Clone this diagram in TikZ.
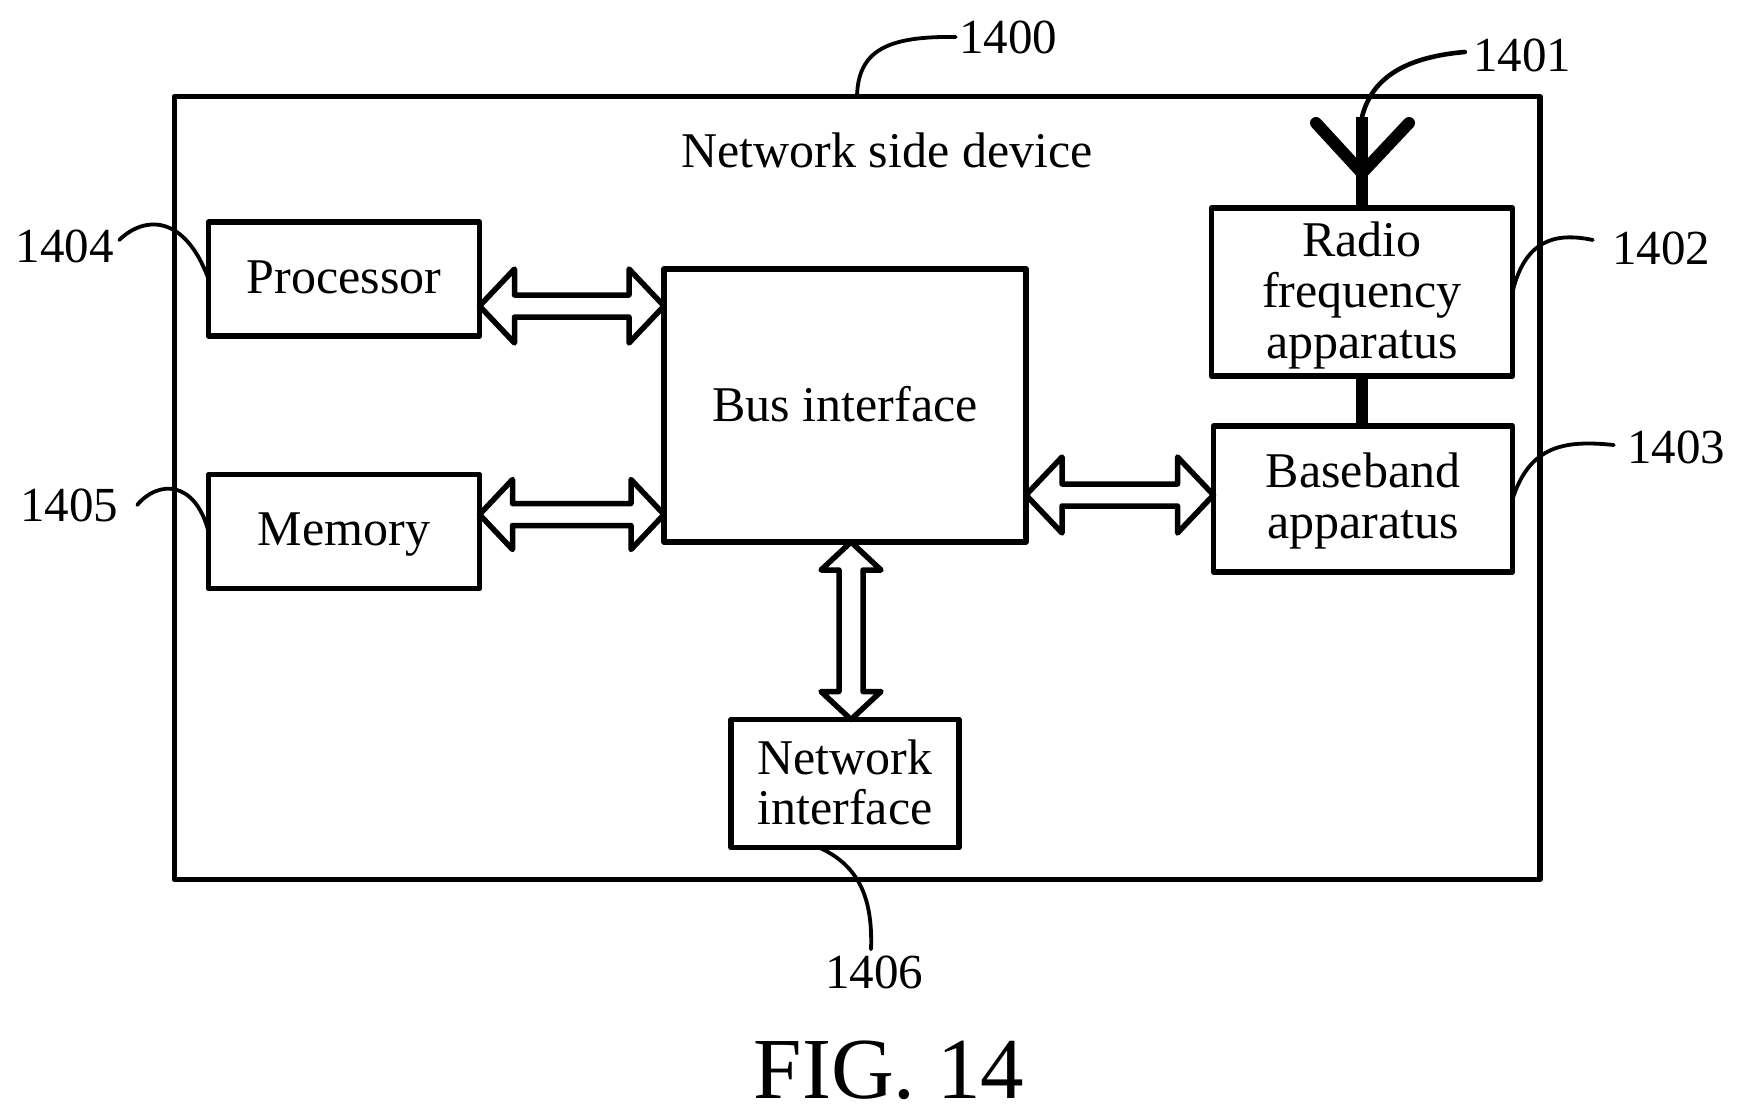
\documentclass[tikz,border=0pt]{standalone}
\usepackage{fontspec}
\setmainfont{Liberation Serif}
\usetikzlibrary{calc, positioning}
\tikzset{
    block/.style={draw, line width=5.5pt, line join=round, inner sep=0pt, outer sep=0pt, align=center, fill=white, font=\fontsize{50}{51}\selectfont},
    refnum/.style={inner sep=0pt, font=\fontsize{49}{51}\selectfont},
    leader/.style={line width=3.8pt, line cap=round},
    busline/.style={draw, line width=5.5pt, line join=round, fill=white},
    thick line/.style={line width=12pt}
}
% ends, head length, head half width, shaft half width
\newcommand{\busarrow}[5]{
    \coordinate (sa) at ($(#1)!#3!(#2)$);
    \coordinate (sb) at ($(#2)!#3!(#1)$);
    \draw[busline] (#1) -- ($(sa)!#4!90:(#2)$) -- ($(sa)!#5!90:(#2)$) -- ($(sb)!#5!-90:(#1)$) -- ($(sb)!#4!-90:(#1)$) -- (#2)
        -- ($(sb)!#4!90:(#1)$) -- ($(sb)!#5!90:(#1)$) -- ($(sa)!#5!-90:(#2)$) -- ($(sa)!#4!-90:(#2)$) -- cycle;
}
% struts that nudge the text of a box
\newcommand{\tall}[1]{\rule{0pt}{#1}}
\newcommand{\deep}[1]{\rule[-#1]{0pt}{0pt}}

\begin{document}
\begin{tikzpicture}[x=1pt, y=-1pt]
        \useasboundingbox (0,0) rectangle (1742,1118);
        \node[block, minimum width=1365.5pt, minimum height=783pt] (outer) at (857,488) {};
        \node[font=\fontsize{50}{51}\selectfont, inner sep=0pt] (title) at (887,150) {Network side device};

        \node[block, minimum width=271pt, minimum height=114pt] (proc) at (344,279) {Processor\deep{4pt}};
        \node[block, minimum width=271pt, minimum height=114pt] (mem) at (344,531.5) {\tall{38pt}Memory};
        \node[block, minimum width=362pt, minimum height=273pt] (bus) at (845,405.5) {Bus interface\deep{4pt}};
        \node[block, minimum width=301pt, minimum height=168pt] (radio) at (1362,292) {\tall{41pt}Radio\\frequency\\apparatus};
        \node[block, minimum width=299pt, minimum height=146pt] (base) at (1363,499) {\tall{38pt}Baseband\\apparatus};
        \node[block, minimum width=228pt, minimum height=128pt, font=\fontsize{50}{50}\selectfont] (net) at (845,783.5) {Network\\interface\deep{3.5pt}};

        % antenna
        \coordinate (anttop) at ([shift={(0,-91)}]radio.north);
        \coordinate (antfork) at ([shift={(0,-35)}]radio.north);
        \draw[thick line] (anttop) -- (radio.north);
        \draw[thick line, line cap=round, line join=round] (1316,123) -- (antfork) -- (1409,123);
        \draw[thick line] (radio.south) -- (radio.south |- base.north);

        % bus arrows
        \coordinate (procend) at ([shift={(0,27)}]proc.east);
        \coordinate (memend) at ([shift={(0,-17)}]mem.east);
        \coordinate (baseend) at ([shift={(0,-4)}]base.west);
        \coordinate (netend) at ([shift={(6,0)}]net.north);
        \busarrow{procend}{bus.west |- procend}{35pt}{37pt}{11pt}
        \busarrow{memend}{bus.west |- memend}{33pt}{35pt}{11pt}
        \busarrow{baseend}{bus.east |- baseend}{36pt}{38pt}{11pt}
        \busarrow{netend}{bus.south -| netend}{28pt}{30pt}{12pt}

        % reference numbers
        \node[refnum] (n1400) at (1008,37) {1400};
        \node[refnum] (n1401) at (1522,55) {1401};
        \node[refnum] (n1402) at (1661,248) {1402};
        \node[refnum] (n1403) at (1676,447) {1403};
        \node[refnum] (n1404) at (65,246) {1404};
        \node[refnum] (n1405) at (69,505) {1405};
        \node[refnum] (n1406) at (874,972) {1406};

        \draw[leader] ([shift={(-3,0)}]n1400.west) .. controls (888,36) and (858,50) .. (outer.north);
        \draw[leader, line width=4.6pt] ([shift={(-8,-3)}]n1401.west) .. controls (1395,58) and (1370,85) .. (anttop);
        \draw[leader] ([shift={(-19,-8)}]n1402.west) .. controls (1555,232) and (1525,240) .. (radio.east);
        \draw[leader] ([shift={(-13,-2)}]n1403.west) .. controls (1565,440) and (1530,445) .. (base.east);
        \draw[leader] ([shift={(5,-6)}]n1404.east) .. controls (145,215) and (185,215) .. (proc.west);
        \draw[leader] ([shift={(19,0)}]n1405.east) .. controls (158,480) and (195,480) .. (mem.west);
        \draw[leader] ([shift={(-3,-6)}]n1406.north) .. controls (873,897) and (858,865) .. ([shift={(-26,0)}]net.south);

        \node[inner sep=0pt, font=\fontsize{87}{90}\selectfont] (figlabel) at (889,1070) {FIG. 14};
\end{tikzpicture}
\end{document}
